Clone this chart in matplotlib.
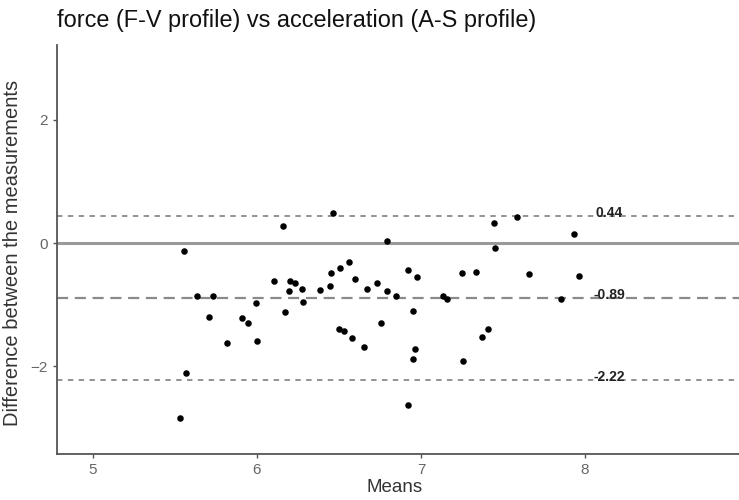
import matplotlib
matplotlib.use("Agg")
import matplotlib.pyplot as plt
import numpy as np

plt.rcParams['font.family'] = ['Liberation Sans', 'DejaVu Sans']

means = [5.557, 5.532, 5.569, 5.634, 5.729, 5.707, 5.819, 5.908, 5.947, 5.994,
         6.002, 6.101, 6.168, 6.160, 6.193, 6.204, 6.234, 6.274, 6.280, 6.384,
         6.447, 6.449, 6.461, 6.504, 6.561, 6.599, 6.500, 6.532, 6.581, 6.654,
         6.673, 6.734, 6.758, 6.795, 6.796, 6.845, 6.923, 6.977, 6.949, 6.965,
         6.949, 6.923, 7.132, 7.160, 7.253, 7.338, 7.256, 7.370, 7.410, 7.443,
         7.449, 7.587, 7.662, 7.854, 7.935, 7.967]
diffs = [-0.125, -2.836, -2.113, -0.865, -0.865, -1.205, -1.627, -1.222, -1.292, -0.973,
         -1.583, -0.611, -1.122, 0.280, -0.775, -0.608, -0.643, -0.741, -0.956, -0.757,
         -0.692, -0.481, 0.491, -0.400, -0.308, -0.590, -1.394, -1.432, -1.546, -1.692,
         -0.741, -0.654, -1.292, 0.026, -0.773, -0.865, -0.443, -0.551, -1.102, -1.718,
         -1.886, -2.626, -0.854, -0.908, -0.483, -0.465, -1.908, -1.519, -1.394, 0.318,
         -0.087, 0.426, -0.509, -0.914, 0.151, -0.530]

mean_diff = -0.89
upper_loa = 0.44
lower_loa = -2.22
x_ticks = [5, 6, 7, 8]
y_ticks = [-2, 0, 2]

fig = plt.figure(figsize=(7.39, 5.0), dpi=100)
ax = fig.add_axes([0.0771, 0.093, 0.9229, 0.817])

ax.axhline(0, color='#9a9a9a', lw=2.2, zorder=1)
ax.axhline(mean_diff, color='#8a8a8a', lw=1.6, ls=(0, (5, 3)), zorder=1)
ax.axhline(upper_loa, color='#8a8a8a', lw=1.3, ls=(0, (3, 3)), zorder=1)
ax.axhline(lower_loa, color='#8a8a8a', lw=1.3, ls=(0, (3, 3)), zorder=1)

ax.scatter(means, diffs, s=22, color='black', zorder=3, linewidths=0)

for v in (upper_loa, mean_diff, lower_loa):
    ax.text(8.15, v - 0.02, f"{v:.2f}", ha='center', va='baseline', fontsize=10,
            fontweight='bold', color='#222222', zorder=4)

ax.set_xlim(4.78, 8.94)
ax.set_ylim(-3.41, 3.21)
ax.set_xticks(x_ticks)
ax.set_yticks(y_ticks)
ax.tick_params(axis='both', colors='#555555', labelcolor='#666666', labelsize=11,
               length=3, width=1)
for s in ('top', 'right'):
    ax.spines[s].set_visible(False)
for s in ('left', 'bottom'):
    ax.spines[s].set_color('#555555')
    ax.spines[s].set_linewidth(1.3)

ax.set_xlabel("Means", fontsize=13.5, color='#333333')
ax.set_ylabel("Difference between the measurements", fontsize=14.5, color='#333333')
ax.xaxis.set_label_coords(0.4956, -0.062)
ax.yaxis.set_label_coords(-0.052, 0.49)
fig.text(0.0771, 0.958, "force (F-V profile) vs acceleration (A-S profile)",
         fontsize=16.9, color='#111111', ha='left', va='center')

fig.savefig("out.png", dpi=100)
